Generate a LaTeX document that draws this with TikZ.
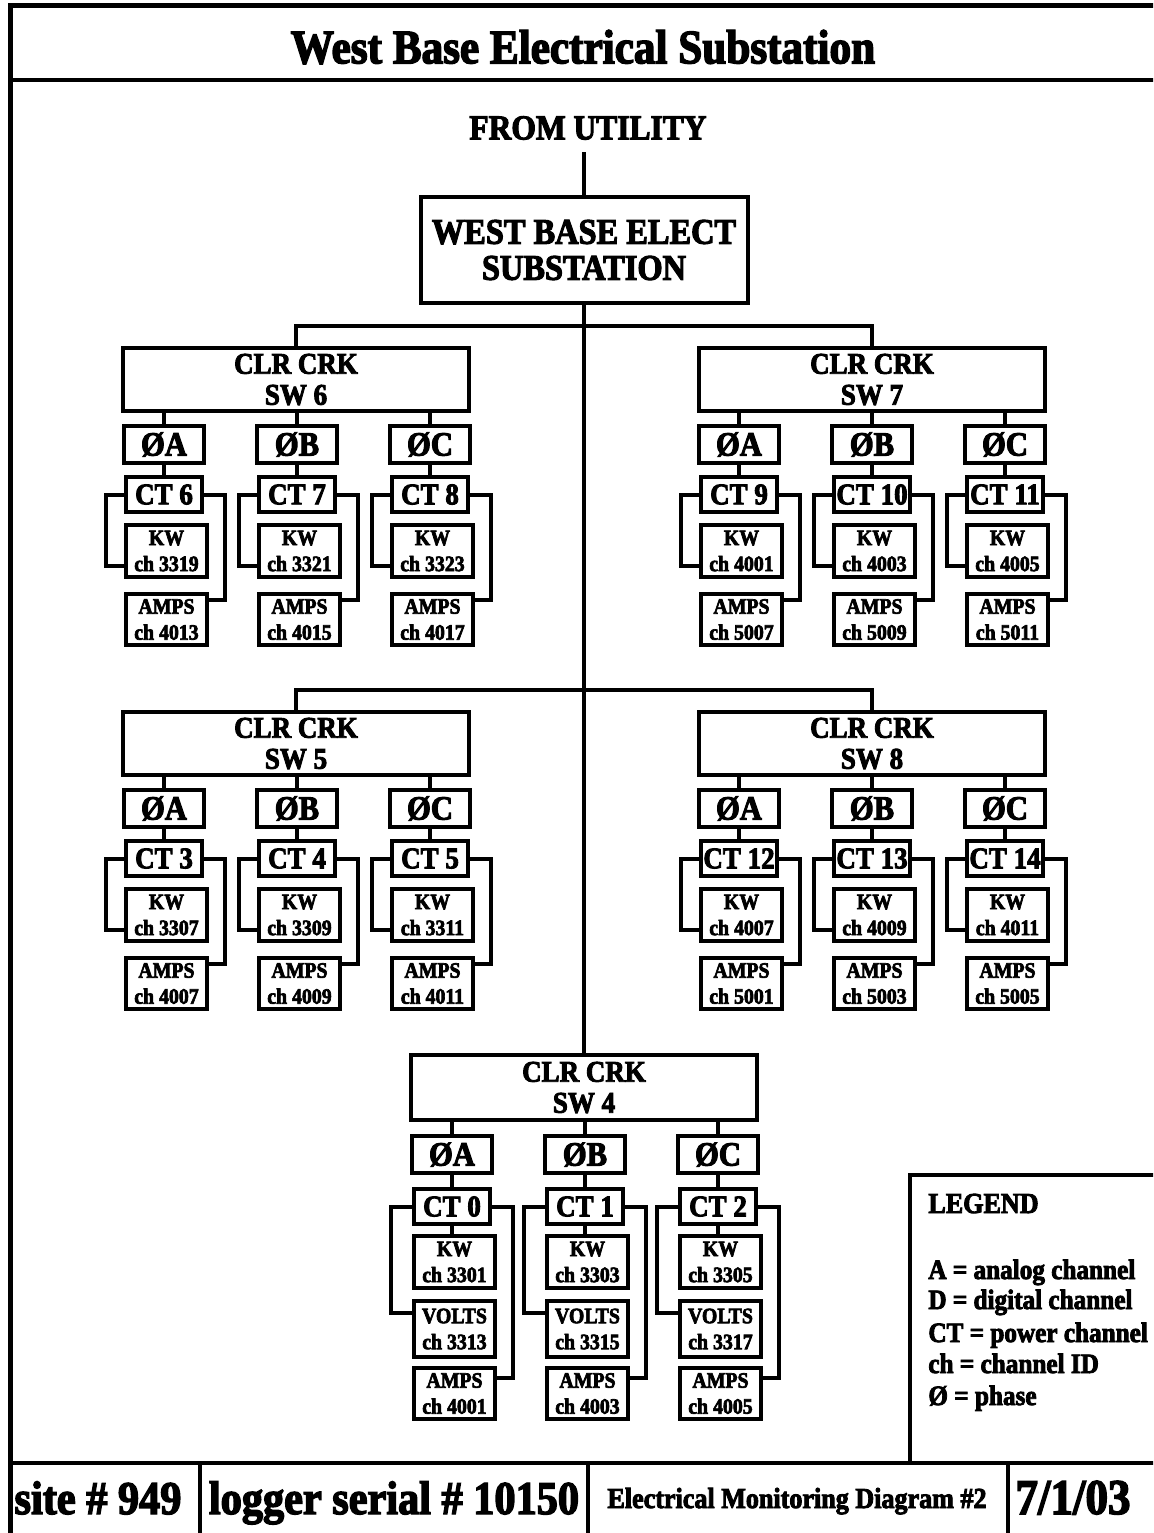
\documentclass[tikz,border=0pt]{standalone}
\usepackage{fontspec}
\newfontfamily\heavy{Liberation Serif}[FakeStretch=0.9,FakeBold=3]
\newcommand{\fs}[2]{\fontsize{#1}{#2}\selectfont}
\tikzset{
  wire/.style={line width=2pt},
  frameline/.style={line width=2pt},
  box/.style={draw, line width=2pt, inner sep=0pt, align=center, font=\heavy\bfseries\fs{15}{15.5}},
  swbox/.style={box, minimum width=173pt, minimum height=31.5pt},
  mainbox/.style={box, minimum width=163.5pt, minimum height=53pt, font=\heavy\bfseries\fs{18}{18}},
  phbox/.style={box, minimum width=40pt, minimum height=18.5pt, font=\heavy\bfseries\fs{17}{17}},
  ctbox/.style={box, minimum width=38pt, minimum height=17.5pt},
  kwbox/.style={box, minimum width=40.5pt, minimum height=26pt, font=\heavy\bfseries\fs{11}{13}},
  ampbox/.style={box, minimum width=40.5pt, minimum height=25.5pt, font=\heavy\bfseries\fs{11}{13}},
  voltbox/.style={box, minimum width=40.5pt, minimum height=28pt, font=\heavy\bfseries\fs{11}{13}},
  txt/.style={inner sep=0pt, font=\heavy\bfseries\fs{17.5}{19}},
  legtxt/.style={inner sep=0pt, anchor=base west, font=\heavy\bfseries\fs{14}{16}},
  foottxt/.style={inner sep=0pt, anchor=base, font=\heavy\bfseries\fs{23.5}{26}}
}
% upper group: #1 name, #2 xc, #3 phase top, #4 phase, #5 CT no, #6 KW ch, #7 AMPS ch
\newcommand{\grp}[7]{%
  \node[phbox] (#1p) at (#2,#3+18.5) {Ø#4};
  \node[ctbox, anchor=north west] (#1c) at (#2-40,#3+49) {CT #5};
  \node[kwbox, anchor=north west] (#1k) at (#2-40,#3+97) {KW\\ch #6};
  \node[ampbox, anchor=north west] (#1a) at (#2-40,#3+166) {AMPS\\ch #7};
  \draw[wire] (#1p.south) -- (#1p.south |- #1c.north);
  \draw[wire] (#1c.west) -- ++(-18,0) |- ([yshift=6.5pt]#1k.south west);
  \draw[wire] (#1c.east) -- ++(21,0) |- ([yshift=-4pt]#1a.north east);
}
% lower group with volts
\newcommand{\grpv}[8]{%
  \node[phbox] (#1p) at (#2,#3+18.5) {Ø#4};
  \node[ctbox, anchor=north west] (#1c) at (#2-40,#3+51) {CT #5};
  \node[kwbox, anchor=north west] (#1k) at (#2-40,#3+98) {KW\\ch #6};
  \node[voltbox, anchor=north west] (#1v) at (#2-40,#3+163) {VOLTS\\ch #7};
  \node[ampbox, anchor=north west] (#1a) at (#2-40,#3+230) {AMPS\\ch #8};
  \draw[wire] (#1p.south) -- (#1p.south |- #1c.north);
  \draw[wire] (#1c.south -| #1p.south) -- (#1k.north -| #1p.south);
  \draw[wire] (#1c.west) -- ++(-21,0) |- ([yshift=-7pt]#1v.north west);
  \draw[wire] (#1c.east) -- ++(21,0) |- ([yshift=-6pt]#1a.north east);
}
\begin{document}
\begin{tikzpicture}[x=0.5pt,y=-0.5pt]
\clip (0,0) rectangle (1153,1533);
\fill[white] (0,0) rectangle (1153,1533);
% frame
\draw[line width=2.5pt] (10,1545) -- (10,5) -- (1165,5);
\draw[frameline] (10,80) -- (1165,80);
\draw[frameline] (10,1463) -- (1165,1463);
\draw[frameline] (200,1463) -- (200,1545);
\draw[frameline] (588,1463) -- (588,1545);
\draw[frameline] (1008,1463) -- (1008,1545);
\draw[frameline] (1165,1175) -- (910,1175) -- (910,1463);
% title
\node[txt, font=\heavy\bfseries\fs{24}{26}] (title) at (583,47) {West Base Electrical Substation};
\node[txt] (util) at (588,128) {FROM UTILITY};
\node[mainbox] (main) at (584,250) {WEST BASE ELECT\\SUBSTATION};
\draw[wire] ([yshift=-6pt]util.south -| main.north) -- (main.north);
% switch boxes
\node[swbox] (sw6) at (296,379.5) {CLR CRK\\SW 6};
\node[swbox] (sw7) at (872,379.5) {CLR CRK\\SW 7};
\node[swbox] (sw5) at (296,743.5) {CLR CRK\\SW 5};
\node[swbox] (sw8) at (872,743.5) {CLR CRK\\SW 8};
\node[swbox, minimum height=32.5pt] (sw4) at (584,1087.5) {CLR CRK\\SW 4};
\draw[wire] (main.south) -- (sw4.north);
\coordinate (j1) at (584,326);
\coordinate (j2) at (584,690);
\draw[wire] (sw6.north) |- (j1) -| (sw7.north);
\draw[wire] (sw5.north) |- (j2) -| (sw8.north);
% groups
\grp{g6}{164}{426}{A}{6}{3319}{4013}
\grp{g7}{297}{426}{B}{7}{3321}{4015}
\grp{g8}{430}{426}{C}{8}{3323}{4017}
\grp{g9}{739}{426}{A}{9}{4001}{5007}
\grp{g10}{872}{426}{B}{10}{4003}{5009}
\grp{g11}{1005}{426}{C}{11}{4005}{5011}
\grp{g3}{164}{790}{A}{3}{3307}{4007}
\grp{g4}{297}{790}{B}{4}{3309}{4009}
\grp{g5}{430}{790}{C}{5}{3311}{4011}
\grp{g12}{739}{790}{A}{12}{4007}{5001}
\grp{g13}{872}{790}{B}{13}{4009}{5003}
\grp{g14}{1005}{790}{C}{14}{4011}{5005}
\grpv{g0}{452}{1136}{A}{0}{3301}{3313}{4001}
\grpv{g1}{585}{1136}{B}{1}{3303}{3315}{4003}
\grpv{g2}{718}{1136}{C}{2}{3305}{3317}{4005}
\foreach \s/\g in {sw6/g6,sw6/g7,sw6/g8,sw7/g9,sw7/g10,sw7/g11,sw5/g3,sw5/g4,sw5/g5,sw8/g12,sw8/g13,sw8/g14,sw4/g0,sw4/g1,sw4/g2}
  \draw[wire] (\s.south -| \g p.north) -- (\g p.north);
% legend
\node[legtxt, font=\heavy\bfseries\fs{14.5}{16}] (legt) at (928,1213) {LEGEND};
\node[legtxt] (leg1) at (928,1279) {A = analog channel};
\node[legtxt] (leg2) at (928,1309) {D = digital channel};
\node[legtxt] (leg3) at (928,1342) {CT = power channel};
\node[legtxt] (leg4) at (928,1373) {ch = channel ID};
\node[legtxt] (leg5) at (928,1405) {Ø = phase};
% footer
\node[foottxt] (site) at (98,1514) {site \# 949};
\node[foottxt] (logger) at (394,1514) {logger serial \# 10150};
\node[foottxt, font=\heavy\bfseries\fs{14.5}{16}] (diag) at (797,1508) {Electrical Monitoring Diagram \#2};
\node[foottxt, font=\heavy\bfseries\fs{25}{27}] (date) at (1073,1514) {7/1/03};
\end{tikzpicture}
\end{document}
